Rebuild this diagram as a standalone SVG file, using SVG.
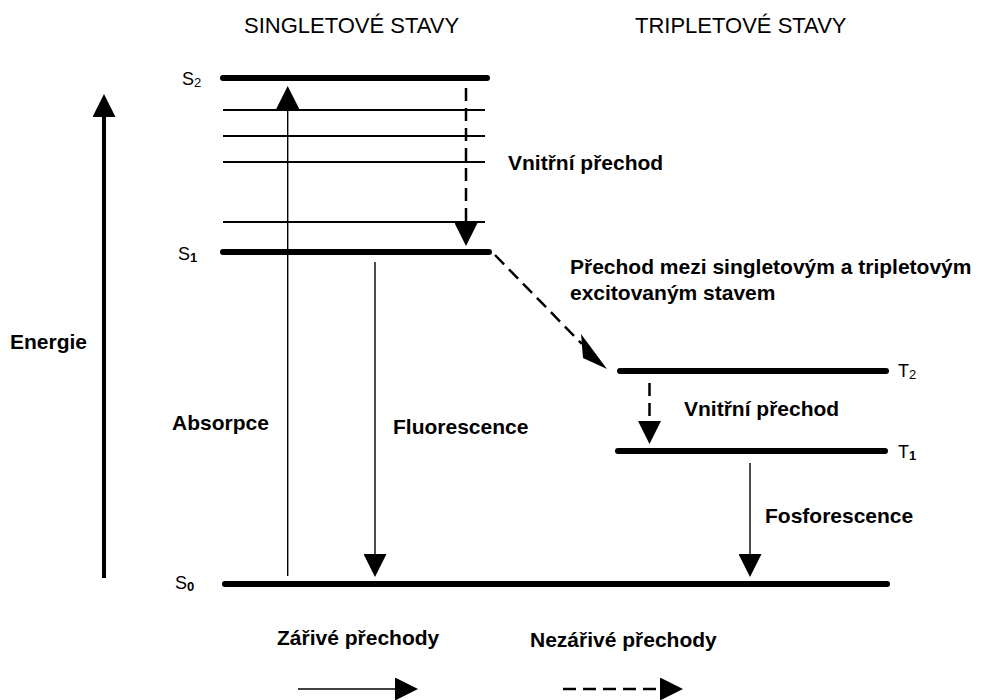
<svg xmlns="http://www.w3.org/2000/svg" width="984" height="700" viewBox="0 0 984 700">
<defs>
<style>
text{font-family:"Liberation Sans",Arial,sans-serif;fill:#000}
.title{font-size:22px}
.lbl{font-size:21px;font-weight:bold}
.st{font-size:18px}
.sub{font-size:13px}
.lvl{stroke:#000;stroke-width:6;stroke-linecap:round;fill:none}
.vib{stroke:#000;stroke-width:2;fill:none}
.rad{stroke:#000;stroke-width:1.4;fill:none}
.nr{stroke:#000;stroke-width:2.5;stroke-dasharray:13 7;fill:none}
</style>
<marker id="ah" markerUnits="userSpaceOnUse" markerWidth="23" markerHeight="23" viewBox="0 0 23 23" refX="0" refY="11.5" orient="auto">
<path d="M0,0 L23,11.5 L0,23 Z" fill="#000"/>
</marker>
</defs>
<rect width="984" height="700" fill="#fff"/>

<g id="titles">
<text class="title" x="244" y="33">SINGLETOVÉ STAVY</text>
<text class="title" x="635" y="33">TRIPLETOVÉ STAVY</text>
</g>

<g id="energy-axis">
<line x1="104" y1="578" x2="104" y2="117" stroke="#000" stroke-width="4" marker-end="url(#ah)"/>
<text class="lbl" x="10" y="349">Energie</text>
</g>

<g id="S2">
<line class="lvl" x1="223" y1="78" x2="487" y2="78"/>
<text class="st" x="182" y="85">S<tspan class="sub" dy="2">2</tspan></text>
</g>
<g id="vib-levels">
<line class="vib" x1="223" y1="110" x2="485" y2="110"/>
<line class="vib" x1="223" y1="136" x2="485" y2="136"/>
<line class="vib" x1="223" y1="162" x2="485" y2="162"/>
<line class="vib" x1="223" y1="222" x2="485" y2="222"/>
</g>
<g id="S1">
<line class="lvl" x1="223" y1="252" x2="489" y2="252"/>
<text class="st" x="178" y="260">S<tspan class="sub" dy="2" font-weight="bold">1</tspan></text>
</g>
<g id="S0">
<line class="lvl" x1="225" y1="584" x2="887" y2="584"/>
<text class="st" x="175" y="589">S<tspan class="sub" dy="2" font-weight="bold">0</tspan></text>
</g>
<g id="T2">
<line class="lvl" x1="620" y1="371" x2="886" y2="371"/>
<text class="st" x="898" y="377">T<tspan class="sub" dy="2">2</tspan></text>
</g>
<g id="T1">
<line class="lvl" x1="618" y1="451" x2="885" y2="451"/>
<text class="st" x="898" y="458">T<tspan class="sub" dy="2" font-weight="bold">1</tspan></text>
</g>

<g id="connectors">
<line class="rad" x1="287.7" y1="576" x2="287.7" y2="109" marker-end="url(#ah)"/>
<line class="nr" x1="466" y1="88" x2="466" y2="223" marker-end="url(#ah)"/>
<line class="rad" x1="375" y1="262" x2="375" y2="554" marker-end="url(#ah)"/>
<line class="nr" x1="495" y1="255" x2="582" y2="344"/>
<polygon points="581,334 583,358 607,369" fill="#000"/>
<line class="nr" x1="649.5" y1="383" x2="649.5" y2="421" marker-end="url(#ah)"/>
<line class="rad" x1="750" y1="463" x2="750" y2="554" marker-end="url(#ah)"/>
</g>

<g id="labels">
<text class="lbl" x="508" y="170">Vnitřní přechod</text>
<text class="lbl" x="570" y="274">Přechod mezi singletovým a tripletovým</text>
<text class="lbl" x="570" y="300">excitovaným stavem</text>
<text class="lbl" x="684" y="416">Vnitřní přechod</text>
<text class="lbl" x="172" y="430">Absorpce</text>
<text class="lbl" x="393" y="434">Fluorescence</text>
<text class="lbl" x="765" y="523">Fosforescence</text>
</g>

<g id="legend">
<text class="lbl" x="277" y="645">Zářivé přechody</text>
<text class="lbl" x="530" y="647">Nezářivé přechody</text>
<line class="rad" x1="298" y1="689" x2="395" y2="689" marker-end="url(#ah)"/>
<line class="nr" x1="563" y1="689" x2="660" y2="689" stroke-dasharray="12 7" marker-end="url(#ah)"/>
</g>
</svg>
